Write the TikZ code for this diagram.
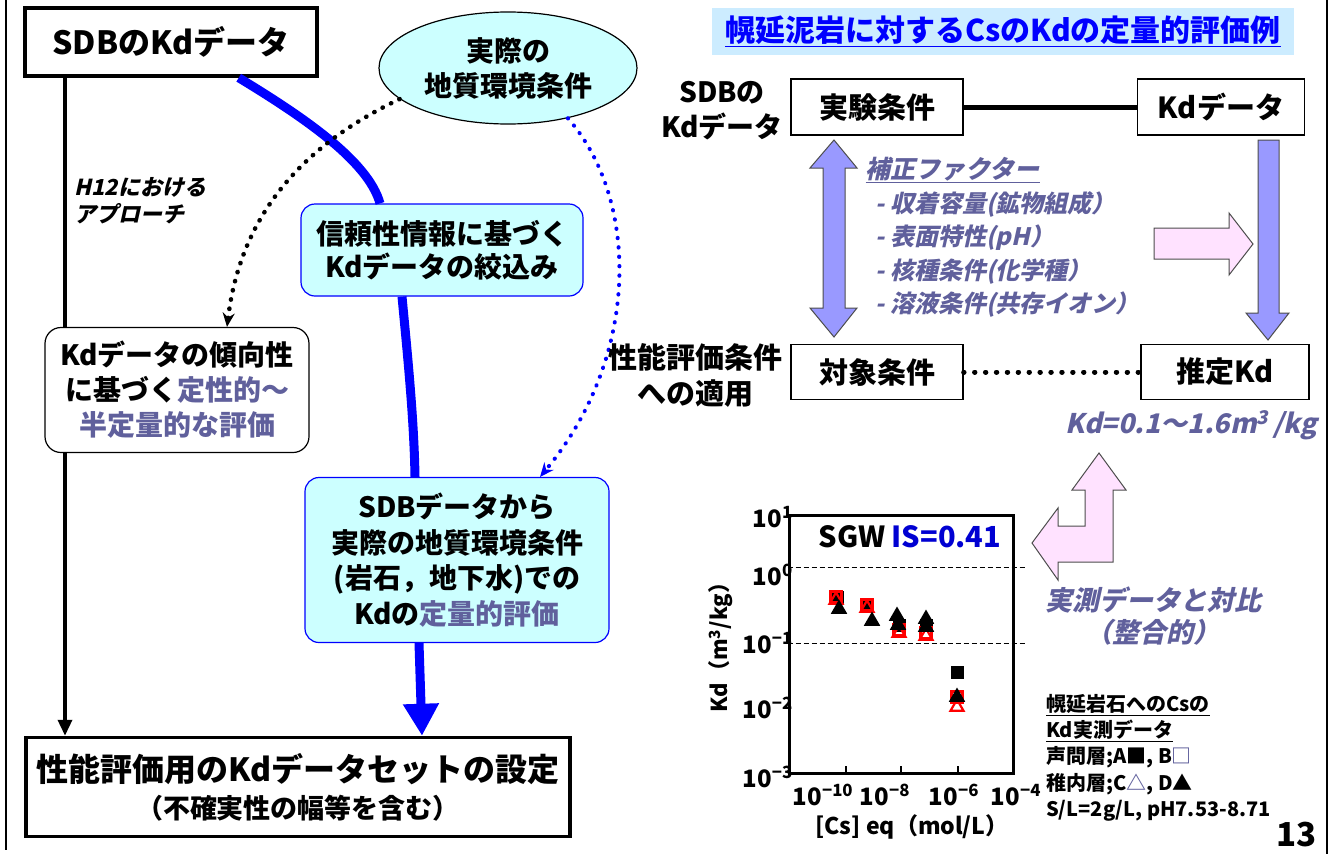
\documentclass[tikz,border=0pt]{standalone}
\usepackage{fontspec}
\setmainfont{Noto Sans CJK JP}
\newfontfamily\slfont{Noto Sans CJK JP}[FakeSlant=0.22]
\usetikzlibrary{arrows.meta,shapes.geometric}
\definecolor{cyanbg}{RGB}{204,255,255}
\definecolor{slate}{RGB}{96,96,156}
\definecolor{peri}{RGB}{153,153,255}
\definecolor{pinkbg}{RGB}{255,226,255}
\definecolor{titlebg}{RGB}{204,236,255}
\definecolor{isblue}{RGB}{0,0,210}
\newcommand\fsz[2]{\fontsize{#1}{#2}\selectfont\bfseries}
\newcommand\slz[2]{\slfont\fontsize{#1}{#2}\selectfont\bfseries}

\begin{document}
\begin{tikzpicture}[x=1pt,y=-1pt,
    thickbox/.style={draw,line width=3.5pt,fill=white,align=center,inner sep=0pt},
    thinbox/.style={draw,line width=1.3pt,fill=white,inner sep=0pt,font=\fsz{29}{34}},
    cyanbox/.style={draw=blue,line width=1.2pt,fill=cyanbg,rounded corners=14pt,align=center,inner sep=0pt},
    blueline/.style={blue,line width=9pt},
    dots/.style={line width=4.5pt,dash pattern=on 0.4pt off 9pt,line cap=round},
    blockarrow/.style={draw=black!70,line width=1pt},
    bsq/.style={fill=black,minimum size=13pt,inner sep=0pt},
    rsq/.style={draw=red,line width=2.4pt,minimum size=11pt,inner sep=0pt},
    rtri/.style={regular polygon,regular polygon sides=3,draw=red,line width=2.2pt,minimum size=15pt,inner sep=0pt},
    btri/.style={regular polygon,regular polygon sides=3,fill=black,minimum size=19pt,inner sep=0pt}]
    \useasboundingbox (0,0) rectangle (1333,854);
    \draw[line width=1.8pt] (6,0) -- (6,850);
    \draw[line width=1.8pt] (1327,0) -- (1327,854);

    % left flow
    \node[thickbox,minimum width=292,minimum height=68,font=\fsz{32}{38}] (sdb) at (171,42) {SDBのKdデータ};
    \node[ellipse,draw,line width=1.2pt,fill=cyanbg,minimum width=258,minimum height=112,inner sep=0pt,align=center,font=\fsz{28}{35}] (env) at (508,68) {実際の\\地質環境条件};
    \node[cyanbox,minimum width=282,minimum height=92,font=\fsz{28}{33}] (filt) at (442,250) {信頼性情報に基づく\\Kdデータの絞込み};
    \node[draw,line width=1.2pt,fill=white,rounded corners=16pt,minimum width=264,minimum height=125,align=center,inner sep=0pt,font=\fsz{28}{35}] (trend) at (177,390) {Kdデータの傾向性\\に基づく{\color{slate}定性的〜}\\{\color{slate}半定量的な評価}};
    \node[cyanbox,minimum width=304,minimum height=165,font=\fsz{28}{35.5}] (quant) at (457,560) {SDBデータから\\実際の地質環境条件\\(岩石，地下水)での\\Kdの{\color{slate}定量的評価}};
    \node[thickbox,minimum width=544,minimum height=99,font=\fsz{32}{37}] (final) at (298,787) {性能評価用のKdデータセットの設定\\{\fsz{27}{37}（不確実性の幅等を含む）}};

    \coordinate (h12) at (65,200);
    \draw[line width=3.5pt] (sdb.south -| h12) -- (trend.north -| h12);
    \draw[line width=3.5pt,-{Triangle[length=16pt,width=14pt]}] (trend.south -| h12) -- (final.north -| h12);
    \node[anchor=west,align=left,font=\slz{22}{27}] (h12txt) at (71,201) {H12における\\アプローチ};

    \draw[blueline] ([xshift=-80pt]sdb.south east) .. controls (300,115) and (368,160) .. ([xshift=-62pt]filt.north);
    \draw[blueline] ([xshift=-40pt]filt.south) .. controls (408,360) and (414,420) .. ([xshift=-42pt]quant.north);
    \draw[blueline,-{Triangle[length=32pt,width=34pt]}] ([xshift=-38pt]quant.south) -- ([xshift=124pt]final.north);

    \draw[dots,-{Stealth[length=14pt,width=12pt]}] (env.196) .. controls (297,148) and (240,220) .. ([xshift=50pt]trend.north);
    \draw[dots,blue,line width=4pt,-{Stealth[length=14pt,width=12pt]}] (env.-40) .. controls (640,200) and (640,357) .. ([xshift=83pt]quant.north);

    % right scheme
    \node[fill=titlebg,minimum width=582,minimum height=47,inner sep=0pt,text=blue,font=\fsz{30}{36}] (title) at (1003,31) {\underline{幌延泥岩に対するCsのKdの定量的評価例}};
    \node[thinbox,minimum width=172,minimum height=56] (exp) at (877,107) {実験条件};
    \node[thinbox,minimum width=167,minimum height=56] (kdd) at (1221,107) {Kdデータ};
    \node[thinbox,minimum width=172,minimum height=55] (tgt) at (877,372) {対象条件};
    \node[thinbox,minimum width=168,minimum height=55] (est) at (1225,372) {推定Kd};
    \node[align=center,font=\fsz{28}{35}] (sdblbl) at (722,111) {SDBの\\Kdデータ};
    \node[align=center,font=\fsz{29}{36}] (perf) at (695,375) {性能評価条件\\への適用};
    \draw[line width=5pt] (exp) -- (kdd);
    \draw[dots,line width=5pt,dash pattern=on 0.4pt off 10.5pt] (tgt) -- (est);

    \filldraw[blockarrow,fill=peri] (834,140) -- (857,168) -- (845,168) -- (845,308) -- (857,308) -- (834,337)
        -- (810,308) -- (823,308) -- (823,168) -- (810,168) -- cycle;
    \filldraw[blockarrow,fill=peri] (1258,140) -- (1279,140) -- (1279,313) -- (1289,313) -- (1268,340)
        -- (1246,313) -- (1258,313) -- cycle;
    \filldraw[blockarrow,fill=pinkbg] (1154,228) -- (1229,228) -- (1229,213) -- (1253,244) -- (1229,275)
        -- (1229,259) -- (1154,259) -- cycle;

    \node[anchor=west,text=slate,font=\slz{25}{30}] (corr) at (862,170) {\underline{補正ファクター}};
    \foreach \t [count=\i] in {収着容量(鉱物組成）,表面特性(pH）,核種条件(化学種）,溶液条件(共存イオン）}
        \node[anchor=west,text=slate,font=\slz{24}{30}] (fac\i) at (872,171.5+33.3*\i) {- \t};
    \node[anchor=west,text=slate,font=\slz{27}{32}] (kdval) at (1062,425) {Kd=0.1〜1.6m\textsuperscript{3}\,/kg};

    % measured data
    \node[draw,line width=3pt,minimum width=224,minimum height=258,inner sep=0pt] (plot) at (901,644) {};
    \coordinate (d0) at (1026,567);
    \coordinate (d1) at (1026,643);
    \draw[line width=1pt,dash pattern=on 5pt off 3pt] (d0 -| plot.west) -- (d0);
    \draw[line width=1pt,dash pattern=on 5pt off 3pt] (d1 -| plot.west) -- (d1);
    \foreach \x in {846,901,958}
        \draw[line width=1.2pt] (\x,773) -- (\x,766);
    \foreach \e/\y [count=\i] in {1/517,0/575,−1/643,−2/708,−3/777}
        \node[anchor=east,inner sep=0pt,font=\fsz{24}{28}] (ylab\i) at (793,\y) {10\textsuperscript{\e}};
    \foreach \e/\x [count=\i] in {−10/823,−8/885,−6/954,−4/1016}
        \node[inner sep=0pt,font=\fsz{24}{28}] (xlab\i) at (\x,795) {10\textsuperscript{\e}};
    \node[rotate=90,font=\fsz{22}{26}] (ylabel) at (721,642) {Kd（m\textsuperscript{3}/kg）};
    \node[font=\fsz{23}{28}] (xlabel) at (912,827) {[Cs] eq（mol/L）};
    \node[anchor=west,font=\fsz{29}{34}] (sgw) at (815,537) {SGW \textcolor{isblue}{IS=0.41}};

    \foreach \x/\y [count=\i] in {837/597,867/604,899/625,926/625,957/672}
        \node[bsq] (bs\i) at (\x,\y) {};
    \foreach \x/\y [count=\i] in {836/597,867/605,899/630,926/633,957/697}
        \node[rsq] (rs\i) at (\x,\y) {};
    \foreach \x/\y [count=\i] in {836/600,867/608,899/633,926/636,957/707}
        \node[rtri] (rt\i) at (\x,\y) {};
    \foreach \x/\y [count=\i] in {839/609,872/621,897/616,898/625,926/619,926/627,957/697}
        \node[btri] (bt\i) at (\x,\y) {};

    \filldraw[blockarrow,fill=pinkbg] (1032,543) -- (1058,508) -- (1058,526) -- (1085,526) -- (1085,490)
        -- (1072,490) -- (1099,453) -- (1126,490) -- (1113,490) -- (1113,562) -- (1058,562) -- (1058,580) -- cycle;
    \node[align=center,text=slate,font=\slz{27}{32}] (match) at (1153,616) {実測データと対比\\（整合的）};

    \node[anchor=north west,align=left,inner sep=0pt,font=\fsz{20}{26.3}] (legend) at (1046,694)
        {\underline{幌延岩石へのCsの}\\\underline{Kd実測データ}\\声問層;A■, B\textcolor{slate}{□}\\稚内層;C\textcolor{slate}{△}, D▲\\S/L=2g/L, pH7.53-8.71};
    \node[anchor=east,inner sep=0pt,font=\fsz{33}{36}] (pgno) at (1317,835) {13};
\end{tikzpicture}
\end{document}
